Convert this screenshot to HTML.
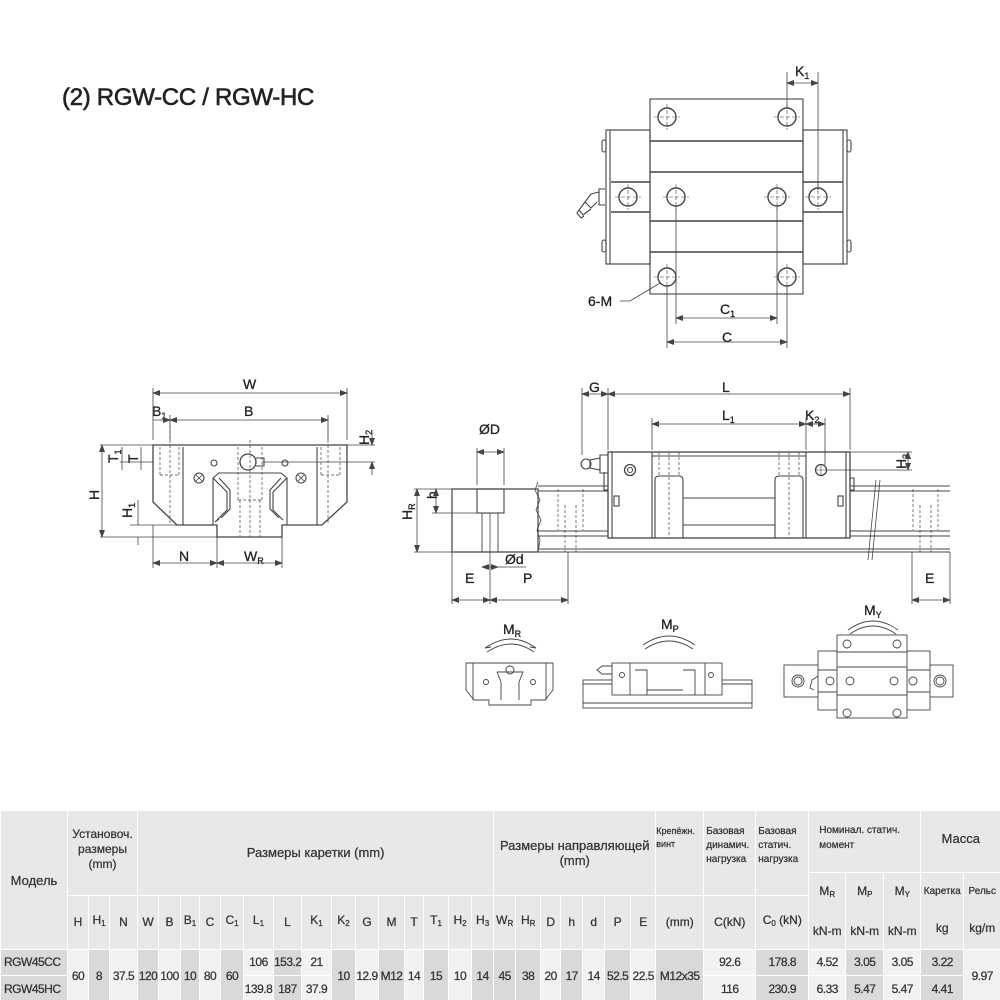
<!DOCTYPE html>
<html><head><meta charset="utf-8"><style>
html,body{margin:0;padding:0;background:#fff;width:1000px;height:1000px;overflow:hidden;position:relative;font-family:"Liberation Sans",sans-serif;}
#title{position:absolute;left:62px;top:84px;font-size:24px;color:#222;-webkit-text-stroke:0.6px #222;letter-spacing:-0.3px;}
svg{position:absolute;left:0;top:0;}
table{position:absolute;left:0;top:810px;width:1000px;border-collapse:collapse;table-layout:fixed;font-size:12px;color:#333;-webkit-text-stroke:0.25px #333;}
td{border:1px solid #fff;background:#e8e8e8;text-align:center;padding:0;line-height:15px;white-space:nowrap;}
td.w{white-space:normal}
.d td{background:#f2f2f2;letter-spacing:-0.5px;}
.d td.s{background:#d9d9d9;}
sub{font-size:8px;vertical-align:-2px;}
</style></head><body>
<div id="title">(2) RGW-CC / RGW-HC</div>
<svg width="1000" height="810" viewBox="0 0 1000 810" fill="none" stroke="#444" stroke-width="1.1" font-family="Liberation Sans, sans-serif">
<defs><marker id="a" markerWidth="8" markerHeight="6" refX="7" refY="3" orient="auto-start-reverse" markerUnits="userSpaceOnUse"><path d="M0,0 L8,3 L0,6 z" fill="#444" stroke="none"/></marker></defs>
<g fill="#222" stroke="#222" stroke-width="0.3" font-size="14">
<text x="795" y="76">K<tspan font-size="9" dy="3">1</tspan></text>
<text x="720" y="314">C<tspan font-size="9" dy="3">1</tspan></text>
<text x="722" y="342">C</text>
<text x="588" y="306">6-M</text>
<text x="243" y="389">W</text>
<text x="152" y="416">B<tspan font-size="9" dy="3">1</tspan></text>
<text x="244" y="416">B</text>
<text x="179" y="561">N</text>
<text x="244" y="561">W<tspan font-size="9" dy="3">R</tspan></text>
<text x="589" y="392">G</text>
<text x="722" y="392">L</text>
<text x="722" y="420">L<tspan font-size="9" dy="3">1</tspan></text>
<text x="805" y="420">K<tspan font-size="9" dy="3">2</tspan></text>
<text x="479" y="434">ØD</text>
<text x="505" y="564">Ød</text>
<text x="465" y="583">E</text>
<text x="523" y="583">P</text>
<text x="925" y="583">E</text>
<text x="503" y="634">M<tspan font-size="9" dy="3">R</tspan></text>
<text x="661" y="629">M<tspan font-size="9" dy="3">P</tspan></text>
<text x="864" y="615">M<tspan font-size="9" dy="3">Y</tspan></text>
<text transform="translate(99,500) rotate(-90)">H</text>
<text transform="translate(132,518) rotate(-90)">H<tspan font-size="9" dy="3">1</tspan></text>
<text transform="translate(118,463) rotate(-90)">T<tspan font-size="9" dy="3">1</tspan></text>
<text transform="translate(138,463) rotate(-90)">T</text>
<text transform="translate(369,445) rotate(-90)">H<tspan font-size="9" dy="3">2</tspan></text>
<text transform="translate(412,520) rotate(-90)">H<tspan font-size="9" dy="3">R</tspan></text>
<text transform="translate(437,499) rotate(-90)">h</text>
<text transform="translate(906,469) rotate(-90)">H<tspan font-size="9" dy="3">3</tspan></text>
</g>

<!-- ===== TOP VIEW ===== -->
<rect x="650" y="99" width="153" height="195"/>
<rect x="606" y="130" width="44" height="134"/><rect x="610" y="130" width="40" height="134"/>
<rect x="803" y="130" width="44" height="134"/><rect x="803" y="130" width="40" height="134"/>
<line x1="650" y1="141" x2="803" y2="141" stroke-width="1.6"/><line x1="650" y1="172" x2="803" y2="172" stroke-width="1.6"/>
<line x1="650" y1="221" x2="803" y2="221" stroke-width="1.6"/><line x1="650" y1="252" x2="803" y2="252" stroke-width="1.6"/>
<line x1="611" y1="182" x2="650" y2="182" stroke-width="1.6"/><line x1="611" y1="212" x2="650" y2="212" stroke-width="1.6"/>
<line x1="803" y1="182" x2="843" y2="182" stroke-width="1.6"/><line x1="803" y1="212" x2="843" y2="212" stroke-width="1.6"/>
<g stroke-width="1.4">
<circle cx="667" cy="117" r="9"/><circle cx="787" cy="117" r="9"/>
<circle cx="676" cy="197" r="9"/><circle cx="777" cy="197" r="9"/>
<circle cx="667" cy="277" r="9"/><circle cx="787" cy="277" r="9"/>
<circle cx="628" cy="197" r="9"/><circle cx="818" cy="197" r="9"/>
</g>
<g stroke-width="0.6" stroke-dasharray="4 2">
<path d="M654,117h26M667,104v26M774,117h26M787,104v26M663,197h26M676,184v26M764,197h26M777,184v26M654,277h26M667,264v26M774,277h26M787,264v26M615,197h26M628,184v26M805,197h26M818,184v26"/>
</g>
<rect x="602" y="140" width="4" height="12" rx="2"/><rect x="602" y="240" width="4" height="12" rx="2"/>
<rect x="847" y="140" width="4" height="12" rx="2"/><rect x="847" y="240" width="4" height="12" rx="2"/>
<path d="M605,189h-6v16h6M599,192l-8,2-6,8 6,6 6-6M585,202l-6,8 4,5 8-6M579,210l-2,3 4,5 3-2"/>
<path d="M787,108V72M818,190V72" stroke-width="0.8"/>
<line x1="787" y1="83" x2="818" y2="83" marker-start="url(#a)" marker-end="url(#a)" stroke-width="0.8"/>
<path d="M676,206V324M777,206V324M667,286V348M787,286V348" stroke-width="0.8"/>
<line x1="676" y1="318" x2="777" y2="318" marker-start="url(#a)" marker-end="url(#a)" stroke-width="0.8"/>
<line x1="667" y1="342" x2="787" y2="342" marker-start="url(#a)" marker-end="url(#a)" stroke-width="0.8"/>
<path d="M620,301h10l30,-18" stroke-width="0.8"/>

<!-- ===== FRONT VIEW ===== -->
<path d="M153,445H347V502L322,525H282V537H217V525H177L153,502Z" stroke-width="1.3"/>
<path d="M183,447V525M317,447V525" />
<path d="M213,525V478L219,473H281L287,478V525M219,519L215,522M213,478l14,14v18l-10,10M287,478l-14,14v18l10,10M219,478l11,12v19l-9,9M281,478l-11,12v19l9,9"/>
<g stroke-dasharray="3 2" stroke-width="0.7">
<path d="M160,447V475M179,447V475M160,475h19M170,420V525M321,447V475M340,447V475M321,475h19M328,420V525M238,447V500M262,447V500M238,500h24M240,500V537M260,500V537M250,440V537"/>
</g>
<circle cx="248" cy="462" r="8" stroke-width="1.3"/><path d="M256,458h8v8h-8"/>
<circle cx="214" cy="463" r="3"/><circle cx="285" cy="463" r="3"/>
<circle cx="199" cy="478" r="5"/><circle cx="301" cy="478" r="5"/>
<path d="M196,475l6,6M202,475l-6,6M298,475l6,6M304,475l-6,6" stroke-width="0.8"/>
<g stroke-width="0.8">
<path d="M153,440V388M347,440V388M170,440V415M328,440V415"/>
<line x1="153" y1="393" x2="347" y2="393" marker-start="url(#a)" marker-end="url(#a)"/>
<line x1="153" y1="420" x2="170" y2="420" marker-end="url(#a)"/>
<line x1="170" y1="420" x2="328" y2="420" marker-start="url(#a)" marker-end="url(#a)"/>
<path d="M100,445H153M100,537H217M130,525H177M120,462H153M347,445H375M262,462H375"/>
<line x1="102" y1="445" x2="102" y2="537" marker-start="url(#a)" marker-end="url(#a)"/>
<path d="M138,500V525M138,537V545M122,447V470M141,447V470"/>
<line x1="372" y1="430" x2="372" y2="445" marker-end="url(#a)"/><line x1="372" y1="475" x2="372" y2="462" marker-end="url(#a)"/>
<path d="M153,525V568M217,537V568M282,537V568"/>
<line x1="153" y1="563" x2="217" y2="563" marker-start="url(#a)" marker-end="url(#a)"/>
<line x1="217" y1="563" x2="282" y2="563" marker-start="url(#a)" marker-end="url(#a)"/>
</g>

<!-- ===== SIDE VIEW ===== -->
<path d="M538,482L535,490 540,500 536,510 541,520 537,530 540,540 538,552" stroke-width="0.8"/>
<path d="M452,489H538V552H452Z" stroke-width="1.2"/>
<path d="M538,486H950M538,491H950M538,531H950M538,536H950M538,549H950M538,552H950" stroke-width="1"/>
<path d="M876,480L868,560M880,480L872,560" stroke-width="0.8"/>
<rect x="477" y="489" width="27" height="24"/>
<path d="M482,513V552M498,513V552" stroke-width="0.9"/>
<rect x="608" y="452" width="242" height="86" fill="#fff" stroke-width="1.3"/>
<path d="M652,452V538M806,452V538M612,452V538M846,452V538"/>
<path d="M652,456H806"/>
<path d="M655,538V480q0,-4 4,-4H679q4,0 4,4V538M775,538V480q0,-4 4,-4H799q4,0 4,4V538M683,498H775M683,525H775"/>
<g stroke-dasharray="3 2" stroke-width="0.7"><path d="M659,452V476M679,452V476M779,452V476M799,452V476M669,452V538M789,452V538M558,489V530M583,489V530M913,489V530M938,489V530M565,505V552M576,505V552M920,505V552M931,505V552"/></g>
<circle cx="630" cy="470" r="5.5" stroke-width="1.3"/><circle cx="630" cy="470" r="2.5"/>
<circle cx="821" cy="470" r="5.5" stroke-width="1.3"/><path d="M816,470h10M821,465v10" stroke-width="0.6"/>
<rect x="614" y="496" width="5" height="10"/><rect x="838" y="496" width="5" height="10"/>
<path d="M608,455h-8v18h8M600,458l-10,2v8l10,2"/><circle cx="586" cy="464" r="5"/>
<path d="M604,472v18h4M850,478h4v12h-4"/>
<g stroke-width="0.8">
<path d="M582,455V388M608,450V388M850,450V388M652,450V418M806,450V418M825,465V418"/>
<line x1="582" y1="394" x2="608" y2="394" marker-start="url(#a)" marker-end="url(#a)"/>
<line x1="608" y1="394" x2="850" y2="394" marker-start="url(#a)" marker-end="url(#a)"/>
<line x1="652" y1="424" x2="806" y2="424" marker-start="url(#a)" marker-end="url(#a)"/>
<line x1="806" y1="424" x2="825" y2="424" marker-start="url(#a)" marker-end="url(#a)"/>
<path d="M850,452H912M826,470H912"/>
<line x1="908" y1="452" x2="908" y2="470" marker-start="url(#a)" marker-end="url(#a)"/>
<path d="M477,485V448M504,485V448"/>
<line x1="477" y1="452" x2="504" y2="452" marker-start="url(#a)" marker-end="url(#a)"/>
<path d="M414,489H452M414,552H452M432,513H477"/>
<line x1="417" y1="489" x2="417" y2="552" marker-start="url(#a)" marker-end="url(#a)"/>
<line x1="436" y1="489" x2="436" y2="513" marker-start="url(#a)" marker-end="url(#a)"/>
<line x1="482" y1="567" x2="498" y2="567" marker-start="url(#a)" marker-end="url(#a)"/><path d="M498,567h28"/>
<path d="M452,552V604M490,513V604M568,552V604M912,552V604M950,552V604"/>
<line x1="452" y1="600" x2="490" y2="600" marker-start="url(#a)" marker-end="url(#a)"/>
<line x1="490" y1="600" x2="568" y2="600" marker-start="url(#a)" marker-end="url(#a)"/>
<line x1="912" y1="600" x2="950" y2="600" marker-start="url(#a)" marker-end="url(#a)"/>
</g>

<!-- ===== ICONS ===== -->
<g stroke-width="0.9">
<path d="M485,648Q511,630 536,648M487,652Q511,636 534,652" /><path d="M485,648l6,-1M536,648l-6,-1"/>
<path d="M643,645Q669,627 695,645M645,649Q669,633 693,649"/>
<path d="M848,630Q873,612 898,630M850,634Q873,618 896,634"/>
<path d="M466,663H553V690L545,700H531V705H489V700H474L466,690Z"/>
<path d="M473,663V700M546,663V700M497,672h26l-4,10v18M497,672l4,10v18"/>
<circle cx="510" cy="670" r="4"/><circle cx="486" cy="682" r="2.5"/><circle cx="533" cy="682" r="2.5"/>
<rect x="583" y="680" width="169" height="28"/><path d="M583,684H752M583,703H752"/>
<rect x="612" y="663" width="110" height="32" fill="#fff"/><path d="M630,663V695M705,663V695M635,670h12v25M683,670h12v25M647,690h36"/>
<circle cx="622" cy="675" r="2.5"/><circle cx="711" cy="675" r="2.5"/>
<path d="M612,666h-10l-5,4 5,4h10"/>
<rect x="784" y="665" width="169" height="32"/>
<circle cx="798" cy="681" r="6"/><circle cx="798" cy="681" r="4"/><circle cx="940" cy="681" r="6"/><circle cx="940" cy="681" r="4"/>
<rect x="818" y="651" width="112" height="59" fill="#fff"/>
<rect x="837" y="635" width="70" height="83" fill="#fff"/>
<path d="M837,652H907M837,667H907M837,695H907M818,670H837M818,692H837M907,670H930M907,692H930"/>
<circle cx="847" cy="644" r="4"/><circle cx="897" cy="644" r="4"/><circle cx="850" cy="681" r="4"/><circle cx="894" cy="681" r="4"/><circle cx="830" cy="681" r="4"/><circle cx="913" cy="681" r="4"/><circle cx="847" cy="713" r="4"/><circle cx="897" cy="713" r="4"/>
<path d="M818,676l-6,4-2,8 4,2"/>
</g>
</svg>

<table>
<colgroup>
<col style="width:67px"><col style="width:21px"><col style="width:21px"><col style="width:28px">
<col style="width:21px"><col style="width:22px"><col style="width:19px"><col style="width:21px"><col style="width:23px"><col style="width:30px"><col style="width:28px"><col style="width:30px"><col style="width:24px"><col style="width:23px"><col style="width:26px"><col style="width:19px"><col style="width:25px"><col style="width:23px"><col style="width:22px">
<col style="width:22px"><col style="width:25px"><col style="width:20px"><col style="width:22px"><col style="width:22px"><col style="width:26px"><col style="width:25px">
<col style="width:48px"><col style="width:52px"><col style="width:53px"><col style="width:37px"><col style="width:38px"><col style="width:37px"><col style="width:43px"><col style="width:37px">
</colgroup>
<tr style="height:62px">
<td rowspan="3" style="font-size:13px">Модель</td>
<td colspan="3" rowspan="2" class="w" style="vertical-align:top;padding-top:16px;font-size:12px">Установоч.<br>размеры<br>(mm)</td>
<td colspan="15" rowspan="2" style="font-size:13px">Размеры каретки (mm)</td>
<td colspan="7" rowspan="2" class="w" style="font-size:13px">Размеры направляющей<br>(mm)</td>
<td rowspan="2" style="font-size:9px;text-align:left;vertical-align:top;padding-top:14px;line-height:13px">Крепёжн.<br>винт</td>
<td rowspan="2" style="font-size:10px;text-align:left;vertical-align:top;padding-top:14px;line-height:14px;padding-left:2px">Базовая<br>динамич.<br>нагрузка</td>
<td rowspan="2" style="font-size:10px;text-align:left;vertical-align:top;padding-top:14px;line-height:14px;padding-left:2px">Базовая<br>статич.<br>нагрузка</td>
<td colspan="3" style="font-size:10px;text-align:left;padding-left:10px;vertical-align:top;padding-top:12px">Номинал. статич.<br>момент</td>
<td colspan="2" style="vertical-align:top;padding-top:20px;font-size:13px">Масса</td>
</tr>
<tr style="height:21px">
<td rowspan="2" style="line-height:36px">M<sub>R</sub><br>kN-m</td>
<td rowspan="2" style="line-height:36px">M<sub>P</sub><br>kN-m</td>
<td rowspan="2" style="line-height:36px">M<sub>Y</sub><br>kN-m</td>
<td rowspan="2" style="line-height:36px;font-size:10px">Каретка<br><span style="font-size:12px">kg</span></td>
<td rowspan="2" style="line-height:36px;font-size:10px">Рельс<br><span style="font-size:12px">kg/m</span></td>
</tr>
<tr style="height:50px">
<td>H</td><td>H<sub>1</sub></td><td>N</td>
<td>W</td><td>B</td><td>B<sub>1</sub></td><td>C</td><td>C<sub>1</sub></td><td>L<sub>1</sub></td><td>L</td><td>K<sub>1</sub></td><td>K<sub>2</sub></td><td>G</td><td>M</td><td>T</td><td>T<sub>1</sub></td><td>H<sub>2</sub></td><td>H<sub>3</sub></td>
<td>W<sub>R</sub></td><td>H<sub>R</sub></td><td>D</td><td>h</td><td>d</td><td>P</td><td>E</td>
<td>(mm)</td><td>C(kN)</td><td>C<sub>0</sub> (kN)</td>
</tr>
<tr class="d" style="height:26px">
<td class="s" style="text-align:left;padding-left:3px">RGW45CC</td>
<td rowspan="2">60</td><td rowspan="2" class="s">8</td><td rowspan="2">37.5</td>
<td rowspan="2" class="s">120</td><td rowspan="2">100</td><td rowspan="2" class="s">10</td><td rowspan="2">80</td><td rowspan="2" class="s">60</td>
<td>106</td><td class="s">153.2</td><td>21</td>
<td rowspan="2" class="s">10</td><td rowspan="2">12.9</td><td rowspan="2" class="s">M12</td><td rowspan="2">14</td><td rowspan="2" class="s">15</td><td rowspan="2">10</td><td rowspan="2" class="s">14</td>
<td rowspan="2" class="s">45</td><td rowspan="2" class="s">38</td><td rowspan="2">20</td><td rowspan="2" class="s">17</td><td rowspan="2">14</td><td rowspan="2" class="s">52.5</td><td rowspan="2">22.5</td>
<td rowspan="2" class="s">M12x35</td>
<td>92.6</td><td class="s">178.8</td><td>4.52</td><td class="s">3.05</td><td>3.05</td><td class="s">3.22</td>
<td rowspan="2">9.97</td>
</tr>
<tr class="d" style="height:28px">
<td class="s" style="text-align:left;padding-left:3px">RGW45HC</td>
<td>139.8</td><td class="s">187</td><td>37.9</td>
<td>116</td><td class="s">230.9</td><td>6.33</td><td class="s">5.47</td><td>5.47</td><td class="s">4.41</td>
</tr>
</table>
</body></html>
